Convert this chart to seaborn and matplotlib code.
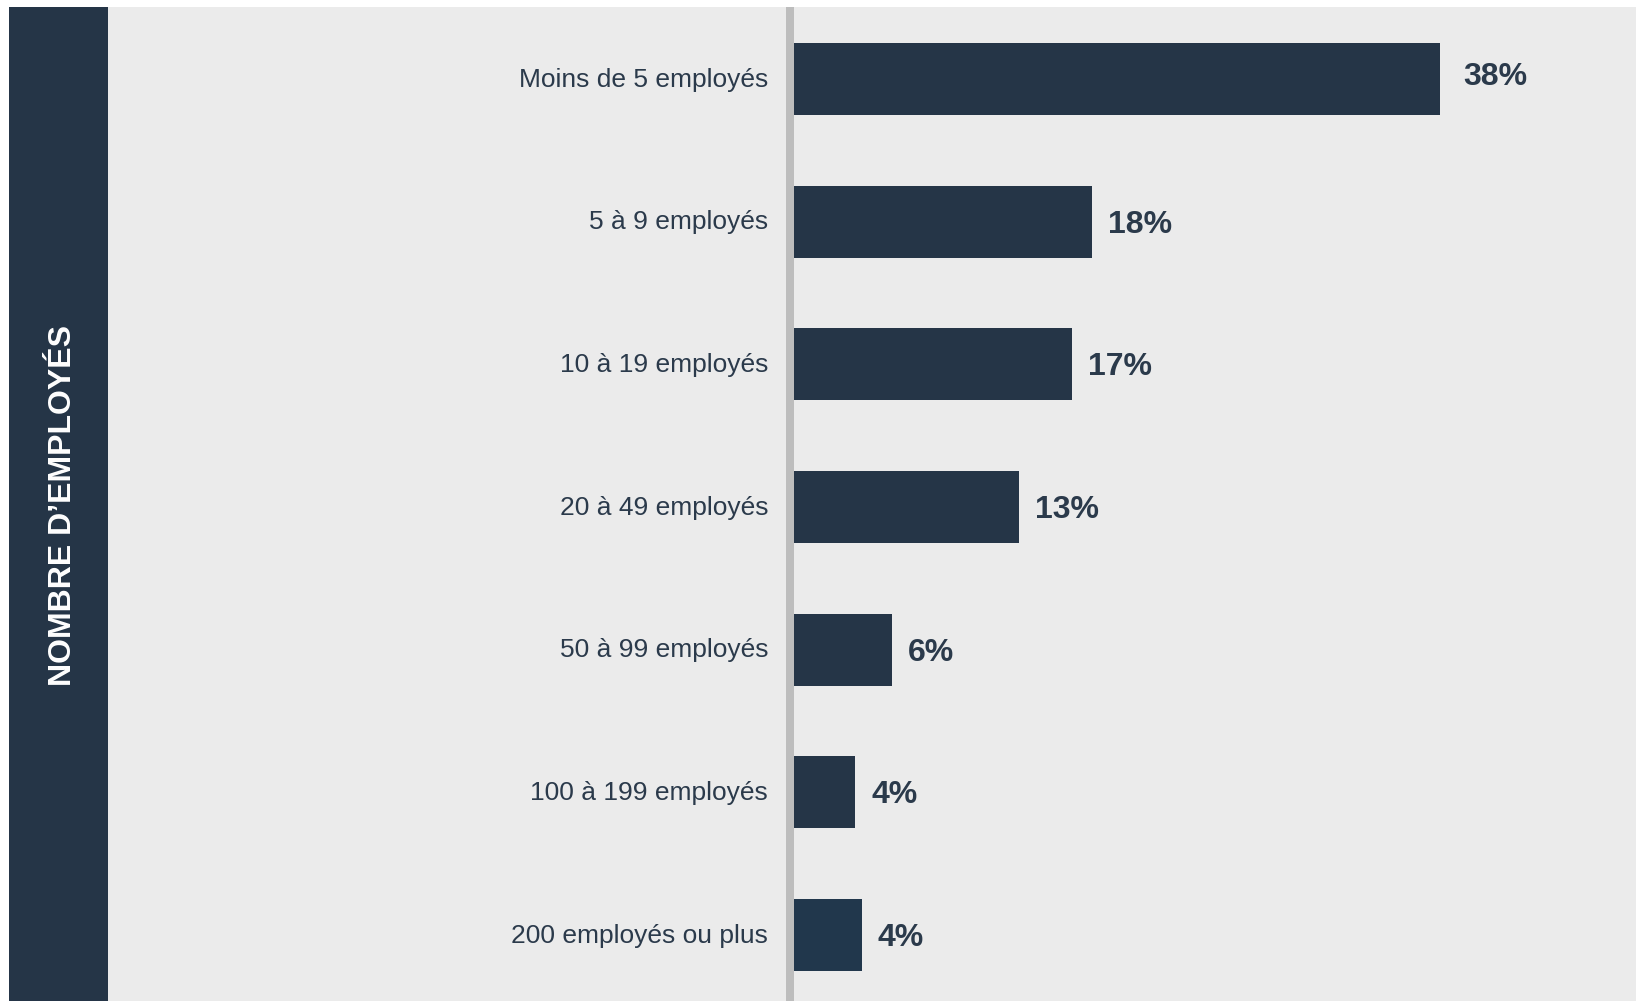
import matplotlib
matplotlib.use("Agg")
import matplotlib.pyplot as plt
import matplotlib.transforms as mtransforms
from matplotlib.patches import Rectangle
import seaborn as sns
import pandas as pd

# ---- data ----
categories = ["Moins de 5 employés", "5 à 9 employés", "10 à 19 employés",
              "20 à 49 employés", "50 à 99 employés", "100 à 199 employés",
              "200 employés ou plus"]
values = [38.45, 17.75, 16.55, 13.4, 5.85, 3.65, 4.05]
value_labels = ["38%", "18%", "17%", "13%", "6%", "4%", "4%"]
band_title = "NOMBRE D’EMPLOYÉS"

# ---- styles ----
bar_colors = ["#253547", "#253547", "#253547", "#253547", "#253547", "#253547", "#21374c"]
label_offsets = [(17.0, 1.6), (11.3, -2.2), (11.3, -2.2), (11.3, -2.2),
                 (11.3, -2.2), (11.3, -2.2), (11.3, -2.2)]
text_color = "#2b3a4b"
bg_color = "#ebebeb"
band_color = "#253547"
axis_color = "#bdbdbd"

sns.set_theme(style="white")
plt.rcParams["font.family"] = ["Liberation Sans", "DejaVu Sans"]

W, H = 1636, 1001
fig = plt.figure(figsize=(W / 100, H / 100), dpi=100)
fig.patch.set_facecolor("white")

top = 7
fig.patches.append(Rectangle((108 / W, 0), (W - 108) / W, (H - top) / H,
                             transform=fig.transFigure, facecolor=bg_color,
                             edgecolor="none", zorder=-2))
fig.patches.append(Rectangle((9 / W, 0), 99 / W, (H - top) / H,
                             transform=fig.transFigure, facecolor=band_color,
                             edgecolor="none", zorder=-2))
fig.text(63 / W, 1 - 506 / H, band_title, rotation=90, color="white",
         fontsize=23, fontweight="bold", ha="center", va="center")

left = 794
ax = fig.add_axes([left / W, 0, (W - left) / W, (H - top) / H])
ax.set_zorder(2)
ax.patch.set_alpha(0)

df = pd.DataFrame({"cat": categories, "val": values})
sns.barplot(data=df, x="val", y="cat", hue="cat", palette=bar_colors,
            order=categories, hue_order=categories, width=0.505,
            dodge=False, legend=False, ax=ax, saturation=1, linewidth=0,
            edgecolor="none")

bars = [p for cont in ax.containers for p in cont]
for bar, lab, off in zip(bars, value_labels, label_offsets):
    ax.annotate(lab, xy=(bar.get_x() + bar.get_width(), bar.get_y() + bar.get_height() / 2),
                xytext=off, textcoords="offset points",
                ha="left", va="center", fontsize=23, fontweight="bold",
                color=text_color)

spacing = 142.67
px_per_unit = 646 / 38.45
ax.set_xlim(0, (W - left) / px_per_unit)
ax.set_ylim(6 + 66 / spacing, -72 / spacing)

for s in ["top", "right", "bottom"]:
    ax.spines[s].set_visible(False)
ax.spines["left"].set_position(("outward", 4 * 0.72))
ax.spines["left"].set_linewidth(8 * 0.72)
ax.spines["left"].set_color(axis_color)
ax.spines["left"].set_capstyle("butt")

ax.set_xticks([])
ax.set_xlabel("")
ax.set_ylabel("")
ax.tick_params(axis="y", length=0, pad=17.3, labelsize=19, labelcolor=text_color)
shift = mtransforms.ScaledTranslation(1.5 / 72, 1.3 / 72, fig.dpi_scale_trans)
for t in ax.get_yticklabels():
    t.set_transform(t.get_transform() + shift)

fig.savefig("out.png", dpi=100, facecolor="white")
